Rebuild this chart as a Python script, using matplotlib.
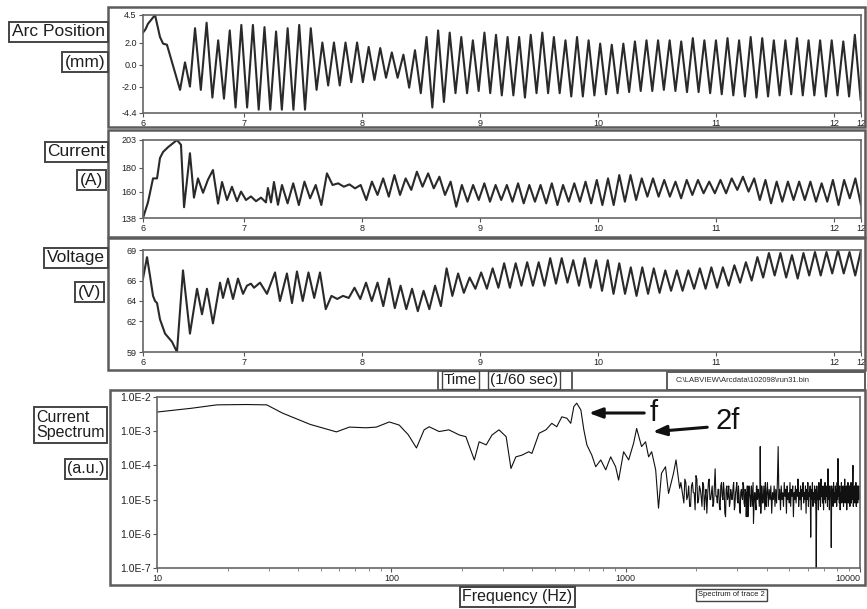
import numpy as np
import matplotlib
matplotlib.use('Agg')
import matplotlib.pyplot as plt
from matplotlib.patches import Rectangle

plt.rcParams['font.family'] = 'Liberation Sans'

# ---- data ----
# time axis in units of 1/60 sec
time_ticks = [6.144, 7, 8, 9, 10, 11, 12, 12.23]
time_ticklabels = ['6', '7', '8', '9', '10', '11', '12', '12']

# arc position (mm): start-up transient, then alternating peaks / troughs
arc_head_t = [6.144, 6.165, 6.186, 6.246, 6.288, 6.314, 6.347, 6.458, 6.500, 6.542]
arc_head_v = [2.9, 3.2, 3.7, 4.5, 2.5, 1.9, 1.8, -2.3, 0.2, -2.0]
arc_peaks = [3.3, 3.8, 2.2, 3.1, 3.6, 3.6, 3.4, 3.0, 3.3,
             3.6, 3.3, 2.0, 2.0, 2.0, 2.0, 1.6, 1.5, 1.1, 0.9, 1.3, 2.5, 3.1,
             2.9, 2.5, 2.2, 2.9, 2.7, 2.5, 2.5, 2.7, 2.9, 2.5,
             2.2, 2.5, 2.2, 1.9, 1.8, 1.9, 2.1, 2.2, 2.2, 2.2, 2.1, 2.4, 2.2,
             2.2, 2.4, 2.2, 2.5, 2.4, 2.2, 2.2, 2.4, 2.2, 2.2, 2.2, 2.1, 2.7]
arc_troughs = [-2.3, -3.0, -3.1, -3.9, -3.9, -4.1, -4.1, -4.1, -4.1,
               -4.1, -2.3, -1.9, -1.9, -1.6, -1.6, -1.4, -1.2, -1.2, -2.1, -2.6, -3.9, -3.4,
               -2.6, -2.6, -2.4, -2.6, -2.8, -2.8, -3.0, -2.6, -2.6, -2.6,
               -2.9, -2.9, -2.8, -2.7, -2.6, -2.5, -2.4, -2.4, -2.3, -2.4, -2.5, -2.5, -2.6,
               -2.7, -2.8, -2.9, -3.0, -2.9, -2.8, -2.7, -2.8, -2.8, -2.9, -2.8, -2.9, -3.2]
arc_osc_span = (6.585, 12.227)

# current (A)
cur_head_t = [6.144, 6.186, 6.229, 6.263, 6.288, 6.314, 6.356, 6.432, 6.466, 6.492,
              6.542, 6.576, 6.610, 6.653, 6.695, 6.737, 6.780, 6.814, 6.856, 6.898,
              6.941, 6.975, 7.017, 7.059, 7.102, 7.144, 7.186, 7.203, 7.229, 7.254, 7.288]
cur_head_v = [138, 151, 171, 171, 188, 193, 197, 203, 199, 147,
              192, 155, 171, 159, 170, 178, 150, 168, 153, 164,
              152, 160, 153, 156, 152, 155, 151, 163, 151, 168, 149]
cur_osc_v = [165.5, 150.2, 166.9, 148.8, 168.3, 154.4, 165.5, 148.8, 175.2, 165.5,
             166.9, 164.1, 166.0, 162.7, 165.5, 153.0, 168.3, 157.2, 171.0, 155.8,
             173.8, 157.2, 171.0, 161.4, 176.6, 164.1, 175.2, 162.7, 172.4, 157.2,
             168.3, 147.4, 165.5, 151.6, 165.5, 153.0, 166.9, 151.6, 165.5, 153.0,
             165.5, 151.6, 166.9, 150.2, 165.5, 151.6, 165.5, 150.2, 166.9, 148.8,
             165.5, 151.6,
             166.9, 151.6, 168.3, 150.2, 169.7, 148.8, 171.0, 148.8, 173.8, 151.6,
             173.8, 153.0, 171.0, 155.8, 171.0, 155.8, 169.7, 155.8, 168.3, 154.4,
             169.7, 157.2, 169.7, 158.6, 168.3, 158.6, 169.7, 158.6, 171.0, 161.4,
             172.4, 160.0, 171.0, 153.0, 169.7, 150.2, 168.3, 151.6, 168.3, 153.0,
             168.3, 153.0, 168.3, 151.6, 166.9, 151.6, 169.7, 148.8, 169.7, 154.4,
             171.0, 148.8]
cur_osc_span = (7.322, 12.23)

# voltage (V)
volt_head_t = [6.144, 6.178, 6.203, 6.229, 6.246, 6.263, 6.288, 6.331, 6.390, 6.432,
               6.483, 6.542, 6.602, 6.644, 6.686, 6.737, 6.797, 6.822, 6.864, 6.907,
               6.949, 6.992, 7.025, 7.059, 7.085, 7.136, 7.195, 7.263, 7.305, 7.364, 7.407]
volt_head_v = [66.2, 68.3, 66.5, 64.5, 64.0, 63.8, 62.2, 60.8, 60.0, 59.0,
               67.0, 60.8, 65.2, 62.7, 65.2, 61.8, 65.8, 64.3, 66.2, 64.2,
               66.2, 64.7, 65.5, 65.7, 65.3, 65.8, 64.7, 66.8, 64.0, 66.7, 63.8]
volt_osc_v = [66.9, 64.0, 66.8, 64.3, 66.8, 63.2, 64.5, 64.2, 64.5, 64.3,
              65.3, 64.2, 65.8, 64.0, 65.8, 63.5, 66.2, 63.3, 65.5, 63.2,
              65.2, 63.0, 65.0, 63.2, 65.5, 63.5, 67.2, 64.5, 66.7, 64.8,
              66.3, 65.2, 66.8, 65.2, 67.2, 65.3, 67.7, 65.3, 67.7, 65.5,
              67.8, 65.5, 67.8, 65.5, 68.2, 65.7, 68.2, 65.8,
              68.0, 65.5, 68.2, 65.3, 68.0, 65.0, 68.0, 64.7, 67.7, 64.7,
              67.3, 64.5, 67.3, 64.7, 67.2, 64.8, 67.0, 65.0, 67.0, 65.0,
              67.0, 65.2, 67.2, 65.2, 67.3, 65.3, 67.3, 65.5, 67.5, 65.8,
              67.8, 66.0, 68.3, 66.3, 68.7, 66.5, 68.7, 66.3, 68.5, 66.2,
              68.7, 66.5, 68.8, 66.5, 68.8, 66.7, 69.0, 66.7, 68.8, 66.5, 69.0]
volt_osc_span = (7.449, 12.23)

# current spectrum, amplitude given as log10(a.u.)
spec_low_f = [10, 14, 18, 24, 29.4, 34.3, 45, 58.3, 66.2, 78, 86.3, 98, 108, 118, 128,
              138, 145, 160, 176, 195, 208, 226, 237, 254, 269, 288, 309, 324, 340,
              361, 386, 398, 427, 457, 484, 508, 534, 561, 583, 601, 618, 644, 663,
              683, 717, 745, 783, 822, 863, 906, 933, 980, 1030, 1081, 1114, 1169,
              1216, 1253, 1291, 1343, 1381, 1422, 1479, 1524, 1600, 1640, 1700]
spec_low_log = [-2.44, -2.33, -2.23, -2.22, -2.23, -2.47, -2.80, -3.02, -2.88, -2.90,
                -2.88, -2.73, -2.82, -3.10, -3.49, -2.96, -2.87, -3.01, -2.96, -3.11,
                -3.16, -3.84, -3.31, -3.40, -3.11, -2.96, -3.16, -4.09, -3.75, -3.70,
                -3.60, -3.65, -3.06, -2.96, -2.77, -2.87, -2.58, -2.62, -2.77, -2.28,
                -2.18, -2.38, -2.96, -3.40, -3.70, -4.04, -3.84, -4.13, -3.75, -4.04,
                -4.43, -3.60, -3.84, -3.35, -2.92, -3.45, -3.31, -3.75, -3.60, -4.13,
                -5.25, -4.23, -4.04, -4.82, -4.23, -3.84, -4.67]
# FFT bins 1720 .. 9950 Hz (equally spaced bins)
spec_hi_span = (1720, 9950)
spec_hi_log = [
    -4.5, -4.9, -4.4, -5.0, -4.6, -5.2, -4.5, -4.8, -4.3, -5.1, -4.6, -4.9,
    -4.5, -5.3, -4.7, -4.9, -4.4, -5.0, -4.6, -5.1, -4.1, -4.9, -4.7, -5.2,
    -4.6, -4.9, -4.5, -5.4, -4.7, -5.0, -4.6, -5.1, -4.8, -4.9, -4.5, -5.2,
    -4.7, -5.0, -4.6, -5.3, -4.8, -4.9, -4.5, -5.1, -4.7, -5.5, -4.6, -5.0,
    -4.8, -5.2, -4.6, -4.9, -5.7, -4.8, -5.1, -4.6, -5.0, -4.7, -5.2, -3.45,
    -5.0, -4.7, -5.1, -4.6, -5.3, -4.8, -4.9, -4.5, -5.2, -4.7, -5.0, -4.6,
    -5.4, -4.8, -5.0, -4.6, -5.2, -4.7, -5.1, -4.5, -3.45, -5.0, -4.7, -5.3,
    -4.6, -5.0, -4.8, -5.2, -4.5, -4.9, -4.7, -5.4, -4.6, -5.0, -4.8, -5.1,
    -4.5, -5.2, -4.7, -4.9, -4.6, -5.5, -4.8, -5.0, -4.6, -5.1, -4.7, -4.9,
    -4.4, -5.2, -4.8, -5.0, -4.6, -5.3, -4.7, -4.9, -4.5, -5.1, -4.8, -5.0,
    -4.6, -5.4, -4.7, -5.0, -4.5, -5.2, -4.8, -4.9, -4.6, -6.1, -4.7, -5.0,
    -4.5, -5.2, -4.8, -5.0, -4.6, -5.1, -4.7, -7.0, -4.6, -5.0, -4.8, -5.3,
    -4.5, -5.0, -4.7, -5.2, -4.4, -4.9, -4.8, -5.1, -4.6, -5.3, -4.7, -5.0,
    -4.5, -5.1, -4.8, -4.9, -4.6, -5.2, -4.1, -5.0, -4.7, -5.3, -4.6, -4.9,
    -4.8, -6.4, -4.6, -5.0, -4.7, -5.2, -4.5, -4.9, -4.8, -5.1, -4.6, -5.0,
    -4.7, -5.2, -4.5, -5.0, -3.8, -4.9, -4.7, -5.1, -4.6, -5.3, -4.8, -5.0,
    -4.5, -5.1, -4.7, -4.9, -4.6, -5.2, -4.8, -5.0, -4.4, -5.1, -4.7, -4.9,
    -4.6, -5.3, -4.8, -5.0, -4.5, -5.1, -4.7, -4.9, -4.6, -5.2, -4.8, -5.0,
    -4.5, -5.1, -4.7, -5.0, -4.6, -4.0, -5.2, -4.8, -5.0, -4.6, -5.1, -4.7,
    -4.9, -4.5, -5.2, -4.8, -5.0, -4.6, -5.1, -4.7, -4.9, -4.6, -5.0, -4.8]
# in-between bins 1737 .. 3980 Hz
spec_mid_span = (1737, 3980)
spec_mid_log = [
    -4.7, -5.1, -4.5, -4.9, -5.2, -4.6, -4.8, -5.3, -4.4, -5.0, -4.7, -5.2,
    -4.6, -4.9, -5.4, -4.5, -5.0, -4.8, -5.2, -4.6, -4.9, -5.1, -4.7, -5.3,
    -4.5, -5.0, -4.8, -5.5, -4.6, -4.9, -5.2, -4.7, -5.0, -4.6, -5.3, -4.8,
    -4.5, -5.1, -4.9, -5.4, -4.7, -5.0, -4.6, -5.2, -4.8, -4.9, -5.5, -4.6,
    -5.0, -4.7, -5.2, -4.5, -5.1, -4.8, -5.3, -4.6, -4.9, -5.0, -4.7, -5.4,
    -4.6, -5.1, -4.8, -5.0, -4.5, -5.2]

# ---- assemble series ----
arc_osc_v = np.column_stack([arc_peaks, arc_troughs]).ravel()
arc_t = np.concatenate([arc_head_t, np.linspace(*arc_osc_span, len(arc_osc_v))])
arc_v = np.concatenate([arc_head_v, arc_osc_v])
cur_t = np.concatenate([cur_head_t, np.linspace(*cur_osc_span, len(cur_osc_v))])
cur_v = np.concatenate([cur_head_v, cur_osc_v])
volt_t = np.concatenate([volt_head_t, np.linspace(*volt_osc_span, len(volt_osc_v))])
volt_v = np.concatenate([volt_head_v, volt_osc_v])

hi_f = np.concatenate([np.linspace(*spec_hi_span, len(spec_hi_log)),
                       np.linspace(*spec_mid_span, len(spec_mid_log))])
hi_log = np.concatenate([spec_hi_log, spec_mid_log])
order = np.argsort(hi_f)
spec_f = np.concatenate([spec_low_f, hi_f[order]])
spec_a = 10.0 ** np.concatenate([spec_low_log, hi_log[order]])

# ---- figure, laid out in pixels of the 867x609 scan ----
W, H = 867, 609
fig = plt.figure(figsize=(W / 100, H / 100), dpi=100)
FRAME = '#5c5c5c'
INK = '#2a2a2a'


def fx(px):
    return px / W


def fy(py):
    return 1 - py / H


def frame(x0, y0, x1, y1, lw=1.8, color=FRAME):
    fig.add_artist(Rectangle((fx(x0), fy(y1)), (x1 - x0) / W, (y1 - y0) / H,
                             transform=fig.transFigure, fill=False, lw=lw, ec=color))


def boxed(text, x, y, size, ha='right', pad=0.15, lw=1.4):
    fig.text(fx(x), fy(y), text, ha=ha, va='center', fontsize=size, color='#1e1e1e',
             multialignment='left', linespacing=1.05,
             bbox=dict(boxstyle='square,pad=%s' % pad, fc='white', ec='#444', lw=lw))


def axes_px(x0, y0, x1, y1):
    ax = fig.add_axes([fx(x0), fy(y1), (x1 - x0) / W, (y1 - y0) / H])
    for s in ax.spines.values():
        s.set_color('#666')
        s.set_linewidth(1.2)
    ax.tick_params(labelsize=6.5, length=3, width=0.8, color='#555', pad=1.5,
                   labelcolor='#222')
    return ax


# outer panel frames
frame(108, 7, 865, 127)
frame(108, 130, 865, 237)
frame(108, 238, 865, 370)
frame(110, 390, 865, 585)

panels = [
    (arc_t, arc_v, (15, 113), (-4.4, 4.5), [-4.4, -2, 0, 2, 4.5],
     ['-4.4', '-2.0', '0.0', '2.0', '4.5']),
    (cur_t, cur_v, (140, 218), (138, 203), [138, 160, 180, 203],
     ['138', '160', '180', '203']),
    (volt_t, volt_v, (250, 352), (59, 69), [59, 62, 64, 66, 69],
     ['59', '62', '64', '66', '69']),
]
for t, v, (ytop, ybot), ylim, yt, ytl in panels:
    ax = axes_px(143, ytop, 861, ybot)
    ax.plot(t, v, color=INK, lw=1.5, solid_joinstyle='round')
    ax.set_xlim(time_ticks[0], time_ticks[-1])
    ax.set_ylim(*ylim)
    ax.set_xticks(time_ticks)
    ax.set_xticklabels(time_ticklabels)
    ax.set_yticks(yt)
    ax.set_yticklabels(ytl)

# spectrum panel
ax4 = axes_px(157, 397, 860, 568)
ax4.loglog(spec_f, spec_a, color='#111', lw=0.8)
ax4.set_xlim(10, 10000)
ax4.set_ylim(1e-7, 1e-2)
ax4.set_xticks([10, 100, 1000, 10000])
ax4.set_xticklabels(['10', '100', '1000', '10000'])
ax4.get_xticklabels()[-1].set_ha('right')
ax4.set_yticks([1e-7, 1e-6, 1e-5, 1e-4, 1e-3, 1e-2])
ax4.set_yticklabels(['1.0E-7', '1.0E-6', '1.0E-5', '1.0E-4', '1.0E-3', '1.0E-2'])
ax4.yaxis.set_minor_locator(matplotlib.ticker.NullLocator())
ax4.tick_params(axis='y', labelsize=7.5)
ax4.tick_params(axis='x', which='minor', length=2, width=0.6, color='#777')

# f / 2f markers
ax4.annotate('', xy=(fx(586), fy(413)), xytext=(fx(647), fy(413)),
             xycoords='figure fraction', textcoords='figure fraction',
             arrowprops=dict(arrowstyle='-|>,head_length=0.8,head_width=0.3',
                             color='#111', lw=2.2))
ax4.annotate('', xy=(fx(650), fy(432)), xytext=(fx(710), fy(427)),
             xycoords='figure fraction', textcoords='figure fraction',
             arrowprops=dict(arrowstyle='-|>,head_length=0.8,head_width=0.3',
                             color='#111', lw=2.2))
fig.text(fx(654), fy(413), 'f', fontsize=21, ha='center', va='center', color='#111')
fig.text(fx(728), fy(421), '2f', fontsize=21, ha='center', va='center', color='#111')

# boxed captions
boxed('Arc Position', 105, 32, 12.5)
boxed('(mm)', 105, 62, 12.5)
boxed('Current', 105, 152, 12.5)
boxed('(A)', 103, 180, 12.5)
boxed('Voltage', 105, 258, 12.5)
boxed('(V)', 101, 292, 12.5)
boxed('Current\nSpectrum', 105, 425, 11.5)
boxed('(a.u.)', 105, 469, 11.5)

frame(438, 371, 572, 390, lw=1.4)
boxed('Time', 444, 380, 11, ha='left', pad=0.1, lw=1.0)
boxed('(1/60 sec)', 490, 380, 11, ha='left', pad=0.1, lw=1.0)
frame(667, 372, 865, 390, lw=1.4)
fig.text(fx(676), fy(381), r'C:\LABVIEW\Arcdata\102098\run31.bin', fontsize=5.5,
         ha='left', va='center', color=INK)
boxed('Frequency (Hz)', 462, 597, 11.5, ha='left', pad=0.15)
boxed('Spectrum of trace 2', 698, 595, 5.5, ha='left', pad=0.3, lw=1.0)

fig.savefig('out.png', dpi=100, facecolor='white')
